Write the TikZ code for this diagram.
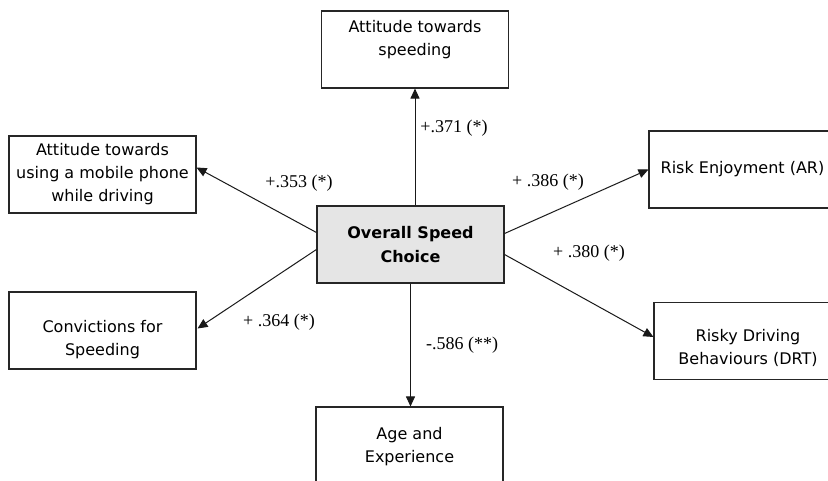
\documentclass[tikz,border=0pt]{standalone}
\usepackage{fontspec}
\setmainfont{DejaVu Sans}
\newfontfamily\lblfont{Liberation Serif}
\usetikzlibrary{arrows.meta}
\begin{document}
\begin{tikzpicture}[x=1pt,y=-1pt,
  box/.style={draw=black!85,line width=1.1pt,minimum width=187pt,minimum height=77pt,inner sep=0pt},
  boxtext/.style={align=center,inner sep=0pt,font=\fontsize{16}{23}\selectfont},
  centerbox/.style={box,fill=black!10,align=center,font=\fontsize{16}{24}\selectfont\bfseries},
  lbl/.style={inner sep=0pt,font=\lblfont\fontsize{18}{20}\selectfont},
  arr/.style={line width=1pt,draw=black!90,-{Triangle[length=10pt,width=9pt]}}]
\clip (0,0) rectangle (828,481);
\fill[white] (0,0) rectangle (828,481);
% boxes
\node[box] (t) at (415,49.5) {};
\node[boxtext] (tt) at (415,39.5) {Attitude towards\\speeding};
\node[box,boxtext] (m) at (102.5,174.5) {Attitude towards\\using a mobile phone\\while driving};
\node[centerbox] (c) at (410.5,244.5) {Overall Speed\\Choice};
\node[box,boxtext] (re) at (742.5,169.5) {Risk Enjoyment (AR)};
\node[box] (rd) at (747.5,341) {};
\node[boxtext] (rdt) at (748,347.5) {Risky Driving\\Behaviours (DRT)};
\node[box] (cv) at (102.5,330.5) {};
\node[boxtext] (cvt) at (102.5,340) {Convictions for\\Speeding};
\node[box] (a) at (409.5,445.5) {};
\node[boxtext] (at) at (409.5,446.5) {Age and\\Experience};
% connectors
\draw[arr] (t.south |- c.north) -- (t.south);
\draw[arr] ([yshift=12pt]c.west) -- ([yshift=7pt]m.east);
\draw[arr] ([yshift=-5pt]c.west) -- ([yshift=2pt,xshift=1pt]cv.east);
\draw[arr] ([yshift=11pt]c.east) -- (re.west);
\draw[arr] ([yshift=-10pt]c.east) -- ([yshift=4pt]rd.west);
\draw[arr] (c.south) -- (c.south |- a.north);
% labels
\node[lbl] (l1) at (454,128) {+.371 (*)};
\node[lbl] (l2) at (299,183) {+.353 (*)};
\node[lbl] (l3) at (548,182) {+ .386 (*)};
\node[lbl] (l4) at (589,253) {+ .380 (*)};
\node[lbl] (l5) at (279,322) {+ .364 (*)};
\node[lbl] (l6) at (462,345) {-.586 (**)};
\end{tikzpicture}
\end{document}
